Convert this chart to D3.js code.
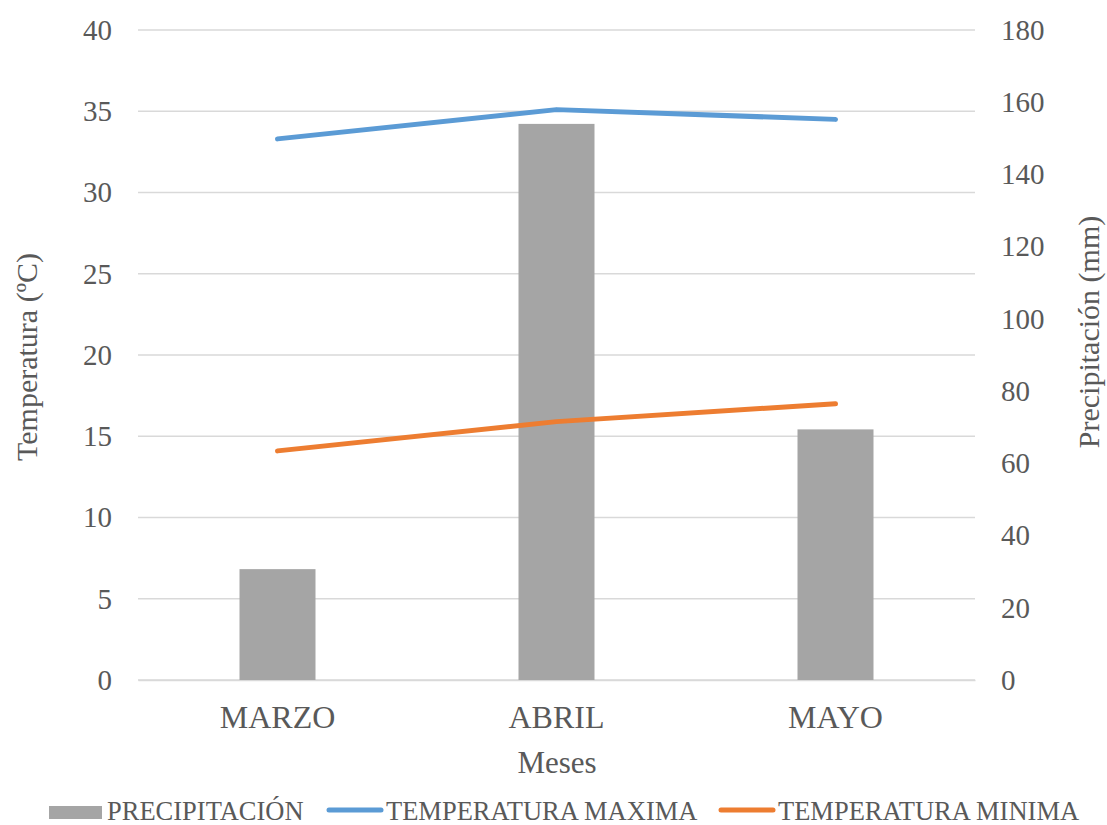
<!DOCTYPE html>
<html><head><meta charset="utf-8">
<script src="https://cdn.jsdelivr.net/npm/d3@7"></script>
<style>body{margin:0;background:#fff}</style>
</head><body><svg id="c" width="1107" height="825"></svg>
<script>
const months = ["MARZO","ABRIL","MAYO"];
const precipitacion = [30.7, 154.0, 69.4];
const tempMax = [33.3, 35.1, 34.5];
const tempMin = [14.1, 15.9, 17.0];
const leftTicks = [0,5,10,15,20,25,30,35,40];
const rightTicks = [0,20,40,60,80,100,120,140,160,180];

const svg = d3.select("#c");
const m = {l:138, r:975, t:30, b:680};
const font = "'Liberation Serif','Times New Roman',serif";
const txt = "#595959";

const x = d3.scaleBand().domain(months).range([m.l, m.r]);
const yL = d3.scaleLinear().domain([0,40]).range([m.b, m.t]);
const yR = d3.scaleLinear().domain([0,180]).range([m.b, m.t]);

// gridlines
svg.append("g").selectAll("line").data(leftTicks).join("line")
  .attr("x1", m.l).attr("x2", m.r)
  .attr("y1", d=>yL(d)).attr("y2", d=>yL(d))
  .attr("stroke", "#d9d9d9").attr("stroke-width", 1.5);

// left axis
const gl = svg.append("g").attr("transform", `translate(${m.l},0)`)
  .call(d3.axisLeft(yL).tickValues(leftTicks).tickSize(0).tickPadding(26));
gl.select(".domain").remove();
gl.selectAll("text").attr("font-family", font).attr("font-size", 29).attr("fill", txt);

// right axis
const gr = svg.append("g").attr("transform", `translate(${m.r},0)`)
  .call(d3.axisRight(yR).tickValues(rightTicks).tickSize(0).tickPadding(26));
gr.select(".domain").remove();
gr.selectAll("text").attr("font-family", font).attr("font-size", 29).attr("fill", txt);

// bottom axis
const gb = svg.append("g").attr("transform", `translate(0,${m.b})`)
  .call(d3.axisBottom(x).tickSize(0).tickPadding(25));
gb.select(".domain").attr("stroke", "#d9d9d9").attr("stroke-width", 1.5);
gb.selectAll("text").attr("font-family", font).attr("font-size", 32).attr("fill", txt)
  .attr("dy", null).attr("y", 48);

// bars
const bw = 76;
svg.append("g").selectAll("rect").data(precipitacion).join("rect")
  .attr("x", (d,i)=>x(months[i]) + x.bandwidth()/2 - bw/2)
  .attr("width", bw)
  .attr("y", d=>yR(d))
  .attr("height", d=>yR(0)-yR(d))
  .attr("fill", "#a5a5a5");

// lines
const line = d3.line().x((d,i)=>x(months[i]) + x.bandwidth()/2).y(d=>yL(d));
svg.append("path").datum(tempMax).attr("d", line)
  .attr("fill","none").attr("stroke","#5b9bd5").attr("stroke-width",5).attr("stroke-linecap","round").attr("stroke-linejoin","round");
svg.append("path").datum(tempMin).attr("d", line)
  .attr("fill","none").attr("stroke","#ed7d31").attr("stroke-width",5).attr("stroke-linecap","round").attr("stroke-linejoin","round");

// axis titles
svg.append("text").attr("transform","translate(37,357) rotate(-90)")
  .attr("text-anchor","middle").attr("font-family",font).attr("font-size",30).attr("fill",txt)
  .text("Temperatura (ºC)");
svg.append("text").attr("transform","translate(1099,332) rotate(-90)")
  .attr("text-anchor","middle").attr("font-family",font).attr("font-size",30).attr("fill",txt)
  .text("Precipitación (mm)");
svg.append("text").attr("x",557).attr("y",773)
  .attr("text-anchor","middle").attr("font-family",font).attr("font-size",31).attr("fill",txt)
  .text("Meses");

// legend
const leg = [
  {name:"PRECIPITACIÓN", type:"bar", color:"#a5a5a5", x:49},
  {name:"TEMPERATURA MAXIMA", type:"line", color:"#5b9bd5", x:328},
  {name:"TEMPERATURA MINIMA", type:"line", color:"#ed7d31", x:720}
];
const lg = svg.append("g");
leg.forEach(l=>{
  if(l.type==="bar"){
    lg.append("rect").attr("x",l.x).attr("y",806).attr("width",53).attr("height",13).attr("fill",l.color);
  } else {
    lg.append("line").attr("x1",l.x+1).attr("x2",l.x+53).attr("y1",810).attr("y2",810)
      .attr("stroke",l.color).attr("stroke-width",5).attr("stroke-linecap","round");
  }
  lg.append("text").attr("x",l.x+58).attr("y",820).attr("font-family",font).attr("font-size",26.5).attr("fill",txt).text(l.name);
});
</script></body></html>
